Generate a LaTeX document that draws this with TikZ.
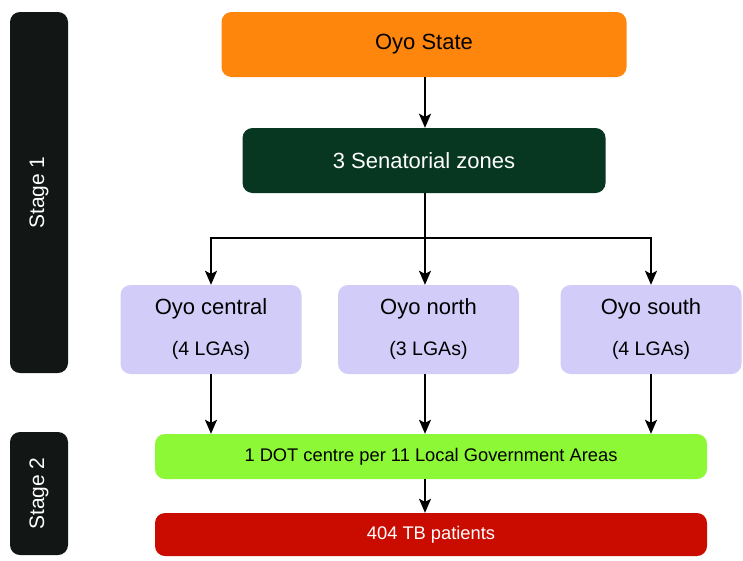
\documentclass[tikz,border=0pt]{standalone}
\usepackage{fontspec}
\setmainfont{Liberation Sans}
\usetikzlibrary{arrows.meta,positioning}
\definecolor{oyoorange}{RGB}{255,134,13}
\definecolor{zonegreen}{RGB}{7,54,33}
\definecolor{lgalilac}{RGB}{210,204,248}
\definecolor{dotgreen}{RGB}{141,248,53}
\definecolor{tbred}{RGB}{202,12,0}
\definecolor{stagegrey}{RGB}{18,23,22}

\begin{document}
\begin{tikzpicture}[x=1pt, y=-1pt,
    box/.style={rounded corners=10pt, inner sep=0pt, align=center},
    stagebar/.style={box, fill=stagegrey, text=white, rotate=90, minimum height=58,
      font=\fontsize{21}{24}\selectfont},
    zonebox/.style={box, fill=lgalilac, minimum width=181, minimum height=89,
      font=\fontsize{22}{26}\selectfont},
    arr/.style={line width=1.6pt, -{Stealth[length=14pt, width=12pt, inset=3pt]}}]
  \useasboundingbox (0,0) rectangle (743,560);
  % Stages
  \node[stagebar, minimum width=361] (stage1) at (39,192.5) {Stage 1};
  \node[stagebar, minimum width=123] (stage2) at (39,493.5) {Stage 2};
  % Top of the tree
  \node[box, fill=oyoorange, minimum width=405, minimum height=65,
    font=\fontsize{22}{26}\selectfont] (state) at (424,44.5) {Oyo State};
  \node[box, fill=zonegreen, text=white, minimum width=363, minimum height=65,
    font=\fontsize{22}{26}\selectfont] (zones) at (424,160.5) {3 Senatorial zones};
  % Senatorial zones
  \node[zonebox] (central) at (211,329.5) {Oyo central\\[15pt]{\fontsize{19.5}{22}\selectfont (4 LGAs)}};
  \node[zonebox] (north) at (428.5,329.5) {Oyo north\\[15pt]{\fontsize{19.5}{22}\selectfont (3 LGAs)}};
  \node[zonebox] (south) at (651,329.5) {Oyo south\\[15pt]{\fontsize{19.5}{22}\selectfont (4 LGAs)}};
  % Stage 2
  \node[box, fill=dotgreen, minimum width=552, minimum height=45,
    font=\fontsize{18.3}{22}\selectfont] (dot) at (431,456.5) {1 DOT centre per 11 Local Government Areas};
  \node[box, fill=tbred, text=white, minimum width=552, minimum height=43,
    font=\fontsize{18.3}{22}\selectfont] (tb) at (431,534.5) {404 TB patients};
  % Connectors
  \coordinate (split) at (425,238);
  \draw[arr] (state.south -| split) -- (zones.north -| split);
  \draw[line width=1.6pt] (zones.south -| split) -- (split);
  \draw[arr] (split) -| (central);
  \draw[arr] (split) -- (split |- north.north);
  \draw[arr] (split) -| (south);
  \draw[arr] (central) -- (central |- dot.north);
  \draw[arr] (north.south -| split) -- (dot.north -| split);
  \draw[arr] (south) -- (south |- dot.north);
  \draw[arr] (dot.south -| split) -- (tb.north -| split);
\end{tikzpicture}
\end{document}
